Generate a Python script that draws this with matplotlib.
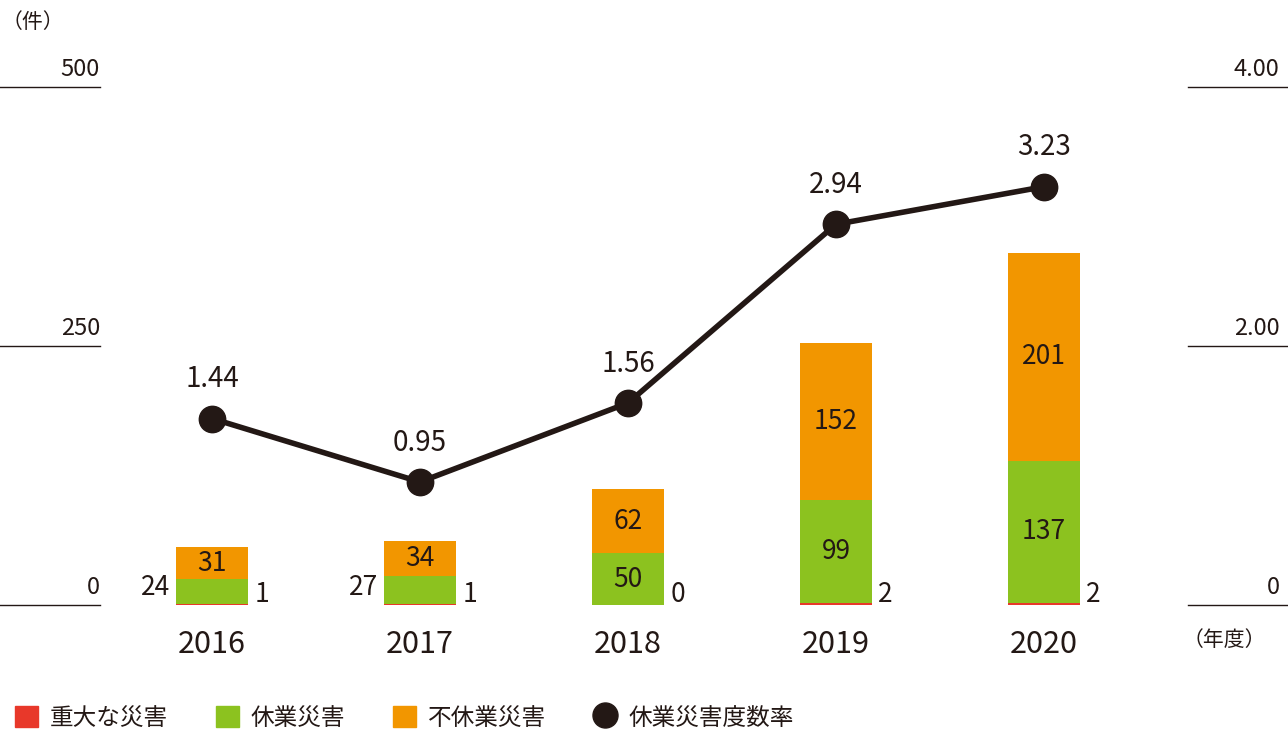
import matplotlib
matplotlib.use("Agg")
import matplotlib.pyplot as plt
from matplotlib.lines import Line2D
from matplotlib.patches import Patch

plt.rcParams["font.family"] = "Noto Sans CJK JP"

years = ["2016", "2017", "2018", "2019", "2020"]
serious = [1, 1, 0, 2, 2]
lost_time = [24, 27, 50, 99, 137]
no_lost = [31, 34, 62, 152, 201]
rate = [1.44, 0.95, 1.56, 2.94, 3.23]
left_ticks = [0, 250, 500]
right_ticks = ["0", "2.00", "4.00"]

RED, GREEN, ORANGE, DARK = "#e8382a", "#8cc21f", "#f29600", "#231815"

fig = plt.figure(figsize=(12.88, 7.36), dpi=100)
ax = fig.add_axes([0, (736 - 605) / 736, 1, (605 - 87) / 736])
x0 = -212 / 208
x1 = (1288 - 212) / 208
ax.set_xlim(x0, x1)
ax.set_ylim(0, 500)
ax.axis("off")

xs = list(range(len(years)))
w = 72 / 208
ax.bar(xs, serious, w, color=RED)
ax.bar(xs, lost_time, w, bottom=serious, color=GREEN)
bot2 = [a + b for a, b in zip(serious, lost_time)]
ax.bar(xs, no_lost, w, bottom=bot2, color=ORANGE)

fs = 19
for i in xs:
    if lost_time[i] < 40:
        ax.text(i - w / 2 - 0.03, 17, str(lost_time[i]), ha="right", va="center", fontsize=fs, color=DARK)
    else:
        ax.text(i, bot2[i] - lost_time[i] / 2, str(lost_time[i]), ha="center", va="center", fontsize=fs, color=DARK)
    ax.text(i, bot2[i] + no_lost[i] / 2, str(no_lost[i]), ha="center", va="center", fontsize=fs, color=DARK)
    ax.text(i + w / 2 + 0.03, 10, str(serious[i]), ha="left", va="center", fontsize=fs, color=DARK)
    ax.text(i, -38, years[i], ha="center", va="center", fontsize=22, color=DARK)

ry = [r * 125 for r in rate]
ax.plot(xs, ry, color=DARK, lw=4, marker="o", ms=19, zorder=5)
for i in xs:
    ax.text(i, ry[i] + 38, f"{rate[i]:.2f}", ha="center", va="center", fontsize=20, color=DARK)

lx1 = (100 - 212) / 208
rx0 = (1188 - 212) / 208
for t, rl in zip(left_ticks, right_ticks):
    ax.plot([x0, lx1], [t, t], color=DARK, lw=1, clip_on=False)
    ax.plot([rx0, x1], [t, t], color=DARK, lw=1, clip_on=False)
    ax.text(lx1, t + 6, str(t), ha="right", va="bottom", fontsize=17, color=DARK)
    ax.text(x1 - 0.04, t + 6, rl, ha="right", va="bottom", fontsize=17, color=DARK)

fig.text(2 / 1288, 1 - 22 / 736, "（件）", ha="left", va="center", fontsize=15, color=DARK)
fig.text(1266 / 1288, 1 - 640 / 736, "（年度）", ha="right", va="center", fontsize=15, color=DARK)

handles = [Patch(color=RED), Patch(color=GREEN), Patch(color=ORANGE),
           Line2D([], [], color=DARK, marker="o", ls="", ms=18)]
labels = ["重大な災害", "休業災害", "不休業災害", "休業災害度数率"]
fig.legend(handles, labels, loc="center left", bbox_to_anchor=(-0.005, 1 - 718 / 736),
           ncol=4, frameon=False, fontsize=17, handlelength=1.0, handleheight=1.0,
           columnspacing=2.0, handletextpad=0.5, labelcolor=DARK)

fig.savefig("out.png", dpi=100)
